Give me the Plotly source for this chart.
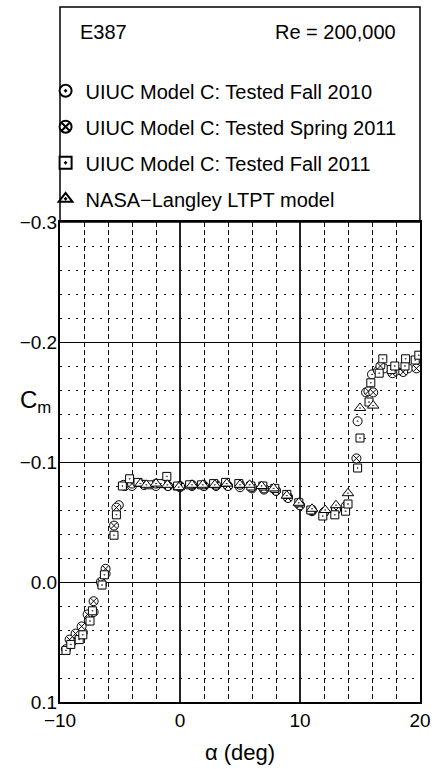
import plotly.graph_objects as go

# ---- data ----
alpha_fall2010 = [-9.5, -9.0, -8.1, -7.6, -7.2, -6.5, -6.2, -5.1, -4.6, -4.0, -3.0, -2.0, -1.0, 0.0, 1.0, 2.0,
                  3.0, 4.0, 5.0, 6.0, 7.0, 8.0, 9.0, 10.0, 11.0, 12.0, 13.0, 13.9, 14.8, 15.5, 16.0, 16.5,
                  17.0, 18.0, 19.0, 20.0]
cm_fall2010 = [0.056, 0.050, 0.042, 0.032, 0.025, 0.002, -0.007, -0.064, -0.080, -0.080, -0.081, -0.080,
               -0.080, -0.079, -0.080, -0.080, -0.080, -0.080, -0.079, -0.078, -0.077, -0.076, -0.071,
               -0.064, -0.059, -0.058, -0.061, -0.064, -0.134, -0.158, -0.173, -0.176, -0.178, -0.176,
               -0.178, -0.187]

alpha_spring2011 = [-9.2, -8.7, -8.2, -7.7, -7.2, -6.6, -6.2, -5.5, -5.3, -4.7, -4.0, -3.0, -2.0, -1.0, 0.0,
                    1.0, 2.0, 3.0, 4.0, 5.0, 6.0, 7.0, 8.0, 9.0, 10.0, 11.0, 12.0, 13.0, 13.8, 14.7, 15.7,
                    16.1, 16.7, 17.7, 18.6, 19.7]
cm_spring2011 = [0.048, 0.043, 0.037, 0.027, 0.016, 0.000, -0.011, -0.047, -0.062, -0.081, -0.082, -0.081,
                 -0.082, -0.080, -0.080, -0.081, -0.080, -0.081, -0.080, -0.081, -0.079, -0.078, -0.076,
                 -0.070, -0.064, -0.060, -0.058, -0.060, -0.063, -0.103, -0.159, -0.158, -0.180, -0.174,
                 -0.175, -0.178]

alpha_fall2011 = [-9.5, -9.1, -8.4, -8.1, -7.5, -7.3, -6.5, -6.3, -5.5, -5.3, -4.8, -4.2, -3.5, -2.6, -1.6,
                  -1.1, -0.2, 0.8, 1.8, 2.8, 3.8, 4.9, 5.9, 6.9, 7.9, 8.9, 9.9, 10.9, 11.9, 12.9, 13.8, 14.0,
                  14.8, 15.0, 15.75, 15.9, 16.6, 16.9, 17.6, 17.9, 18.75, 18.8, 19.6, 19.9]
cm_fall2011 = [0.057, 0.052, 0.048, 0.044, 0.0325, 0.024, 0.0025, -0.006, -0.039, -0.056, -0.080, -0.086,
               -0.083, -0.081, -0.082, -0.088, -0.080, -0.081, -0.081, -0.082, -0.083, -0.082, -0.080,
               -0.080, -0.078, -0.073, -0.066, -0.060, -0.055, -0.056, -0.059, -0.065, -0.095, -0.120,
               -0.150, -0.166, -0.174, -0.186, -0.177, -0.180, -0.180, -0.186, -0.185, -0.189]

alpha_nasa = [-3.3, -2.8, -2.0, -1.05, -0.1, 1.0, 1.9, 2.9, 3.9, 5.0, 5.8, 6.8, 7.8, 8.9, 9.9, 11.0, 12.1,
              13.0, 14.0, 15.0, 16.1]
cm_nasa = [-0.082, -0.081, -0.082, -0.081, -0.079, -0.081, -0.081, -0.081, -0.082, -0.081, -0.081, -0.080,
           -0.078, -0.072, -0.066, -0.061, -0.060, -0.064, -0.074, -0.145, -0.147]

series_names = ["UIUC Model C: Tested Fall 2010", "UIUC Model C: Tested Spring 2011",
                "UIUC Model C: Tested Fall 2011", "NASA\u2212Langley LTPT model"]
x_ticks = [-10, 0, 10, 20]
y_ticks = [0.1, 0.0, -0.1, -0.2, -0.3]

FONT = "Liberation Sans, Arial, sans-serif"
FS = 19
LFS = 20

fig = go.Figure()
specs = [
    (alpha_fall2010, cm_fall2010, "circle-dot", 9),
    (alpha_spring2011, cm_spring2011, "circle-x", 9),
    (alpha_fall2011, cm_fall2011, "square-dot", 8),
    (alpha_nasa, cm_nasa, "triangle-up-dot", 10),
]
for i, (xs, ys, sym, sz) in enumerate(specs):
    fig.add_trace(go.Scatter(
        x=xs, y=ys, mode="markers", name=series_names[i], legendgroup=f"g{i}",
        marker=dict(symbol=sym, size=sz, color="white", line=dict(color="black", width=1)),
    ))

fig.update_layout(
    width=440, height=769,
    margin=dict(l=60, r=20, t=222, b=67, autoexpand=False),
    paper_bgcolor="white", plot_bgcolor="white",
    font=dict(family=FONT, size=FS, color="black"),
    showlegend=True,
    legend=dict(x=-0.04, y=1.314, xanchor="left", yanchor="top", bgcolor="rgba(0,0,0,0)",
                font=dict(size=LFS), tracegroupgap=7, itemsizing="constant"),
    xaxis=dict(range=[-10, 20], tickvals=x_ticks, ticks="", ticklen=0, showline=True, mirror=True,
               linecolor="black", linewidth=2, showgrid=True, gridcolor="#222", gridwidth=1.5,
               zeroline=False, tickfont=dict(size=FS), automargin=False,
               minor=dict(dtick=2, showgrid=True, gridcolor="#111", griddash="5px,3px", gridwidth=1),
               title=dict(text="\u03b1 (deg)", font=dict(size=22), standoff=15)),
    yaxis=dict(range=[0.1, -0.3], tickvals=y_ticks, tickformat=".1f", ticks="", ticklen=0,
               showline=True, mirror=True, linecolor="black", linewidth=2, showgrid=True,
               gridcolor="black", gridwidth=1, zeroline=False, tickfont=dict(size=FS),
               ticklabelstandoff=-3, automargin=False,
               minor=dict(dtick=0.02, tick0=0, showgrid=True, gridcolor="#111", griddash="2px,6px",
                          gridwidth=1)),
)

# legend frame above the plot
fig.add_shape(type="rect", xref="paper", yref="paper", x0=0, x1=1, y0=1, y1=(702 - 7) / 480,
              line=dict(color="black", width=1.5), fillcolor="rgba(0,0,0,0)")
fig.add_annotation(text="E387", xref="paper", yref="paper", x=18 / 360, y=(702 - 32) / 480,
                   xanchor="left", yanchor="middle", showarrow=False, font=dict(size=LFS))
fig.add_annotation(text="Re = 200,000", xref="paper", yref="paper", x=338 / 360, y=(702 - 32) / 480,
                   xanchor="right", yanchor="middle", showarrow=False, font=dict(size=LFS))
fig.add_annotation(text="C<sub>m</sub>", xref="paper", yref="paper", x=-7 / 360, y=(702 - 401) / 480,
                   xanchor="right", yanchor="middle", showarrow=False, font=dict(size=24))

fig.write_html("out.html")
